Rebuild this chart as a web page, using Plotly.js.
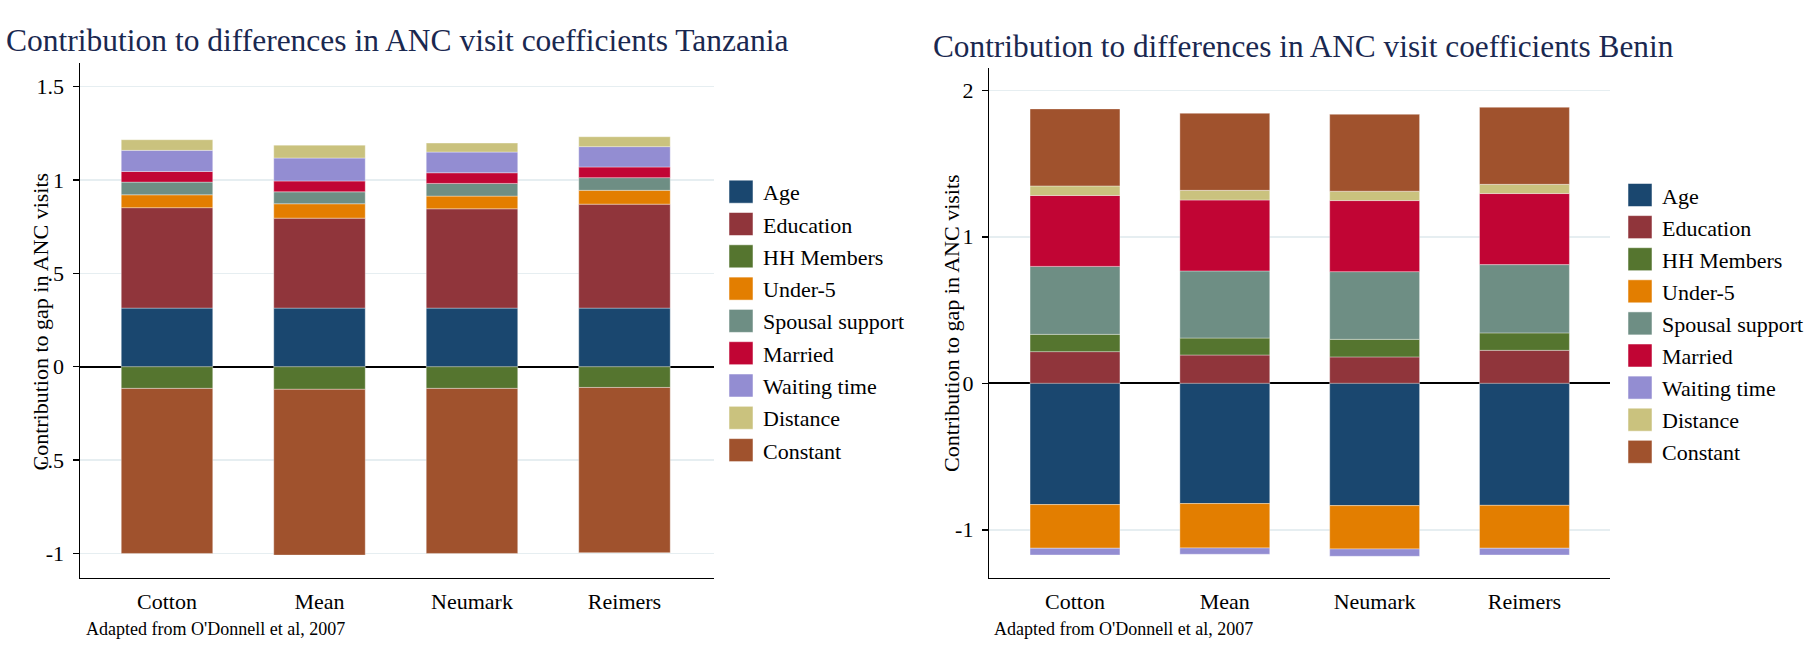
<!DOCTYPE html>
<html>
<head>
<meta charset="utf-8">
<script src="https://cdn.plot.ly/plotly-3.0.1.min.js"></script>
<style>
html,body{margin:0;padding:0;background:#fff;}
#chart{width:1817px;height:664px;}
</style>
</head>
<body>
<div id="chart"></div>
<script>
// ---- data ----
var categories = ['Cotton', 'Mean', 'Neumark', 'Reimers'];
var seriesNames = ['Age', 'Education', 'HH Members', 'Under-5', 'Spousal support', 'Married', 'Waiting time', 'Distance', 'Constant'];

// Tanzania
var ageTZ    = [0.314, 0.314, 0.314, 0.314];
var eduTZ    = [0.538, 0.482, 0.532, 0.557];
var hhTZ     = [-0.116, -0.121, -0.116, -0.111];
var under5TZ = [0.069, 0.077, 0.068, 0.074];
var spouseTZ = [0.068, 0.064, 0.068, 0.068];
var marriedTZ= [0.057, 0.058, 0.057, 0.057];
var waitTZ   = [0.113, 0.123, 0.111, 0.109];
var distTZ   = [0.057, 0.069, 0.048, 0.053];
var constTZ  = [-0.884, -0.888, -0.884, -0.885];

// Benin
var ageBJ    = [-0.828, -0.821, -0.835, -0.833];
var eduBJ    = [0.216, 0.193, 0.180, 0.225];
var hhBJ     = [0.118, 0.116, 0.120, 0.119];
var under5BJ = [-0.298, -0.303, -0.296, -0.293];
var spouseBJ = [0.464, 0.458, 0.462, 0.466];
var marriedBJ= [0.484, 0.484, 0.485, 0.485];
var waitBJ   = [-0.046, -0.043, -0.050, -0.046];
var distBJ   = [0.065, 0.066, 0.064, 0.063];
var constBJ  = [0.526, 0.526, 0.525, 0.526];

var ticksTZ = [-1, -0.5, 0, 0.5, 1, 1.5];
var tickTextTZ = ['-1', '-.5', '0', '.5', '1', '1.5'];
var ticksBJ = [-1, 0, 1, 2];
var tickTextBJ = ['-1', '0', '1', '2'];

var titleTZ = 'Contribution to differences in ANC visit coefficients Tanzania';
var titleBJ = 'Contribution to differences in ANC visit coefficients Benin';
var yTitle = 'Contribution to gap in ANC visits';
var note = "Adapted from O'Donnell et al, 2007";

// ---- styles ----
var colors = ['#1a476f', '#90353b', '#55752f', '#e37e00', '#6e8e84', '#c10534', '#938dd2', '#cac27e', '#a0522d'];
var FONT = '"Liberation Serif", "Times New Roman", serif';
var W = 1817, H = 664;
function px(x) { return x / W; }
function py(y) { return 1 - y / H; }

var tzSeries = [ageTZ, eduTZ, hhTZ, under5TZ, spouseTZ, marriedTZ, waitTZ, distTZ, constTZ];
var bjSeries = [ageBJ, eduBJ, hhBJ, under5BJ, spouseBJ, marriedBJ, waitBJ, distBJ, constBJ];

var traces = [];
tzSeries.forEach(function (vals, i) {
  traces.push({
    type: 'bar', x: categories, y: vals, name: seriesNames[i],
    xaxis: 'x', yaxis: 'y', showlegend: false,
    marker: { color: colors[i], line: { color: 'rgba(255,255,255,0.35)', width: 1 } },
    hoverinfo: 'skip'
  });
});
bjSeries.forEach(function (vals, i) {
  traces.push({
    type: 'bar', x: categories, y: vals, name: seriesNames[i],
    xaxis: 'x2', yaxis: 'y2', showlegend: false,
    marker: { color: colors[i], line: { color: 'rgba(255,255,255,0.35)', width: 1 } },
    hoverinfo: 'skip'
  });
});

function xAxis(domain, range, anchor) {
  return {
    domain: domain, anchor: anchor, type: 'category', range: range,
    showline: true, linecolor: '#000', linewidth: 1.5, mirror: false,
    showgrid: false, zeroline: false,
    ticks: 'outside', ticklen: 3, tickcolor: 'rgba(0,0,0,0)',
    tickfont: { family: FONT, size: 22, color: '#000' }, fixedrange: true
  };
}
function yAxis(domain, range, anchor, tv, tt) {
  return {
    domain: domain, anchor: anchor, range: range,
    tickvals: tv, ticktext: tt,
    showline: true, linecolor: '#000', linewidth: 1.5,
    showgrid: true, gridcolor: '#e6eef1', gridwidth: 1.5,
    zeroline: true, zerolinecolor: '#000', zerolinewidth: 2,
    ticks: 'outside', ticklen: 6, tickwidth: 1.5, tickcolor: '#000',
    ticklabelstandoff: 4,
    tickfont: { family: FONT, size: 22, color: '#000' }, fixedrange: true
  };
}

var annotations = [
  { text: titleTZ, xref: 'paper', yref: 'paper', x: px(4), y: py(41), xanchor: 'left', yanchor: 'middle', showarrow: false,
    font: { family: FONT, size: 31.5, color: '#1a2850' } },
  { text: titleBJ, xref: 'paper', yref: 'paper', x: px(931), y: py(47), xanchor: 'left', yanchor: 'middle', showarrow: false,
    font: { family: FONT, size: 31.3, color: '#1a2850' } },
  { text: yTitle, xref: 'paper', yref: 'paper', x: px(40), y: py(321.5), xanchor: 'center', yanchor: 'middle', textangle: -90, showarrow: false,
    font: { family: FONT, size: 22, color: '#000' } },
  { text: yTitle, xref: 'paper', yref: 'paper', x: px(951), y: py(323), xanchor: 'center', yanchor: 'middle', textangle: -90, showarrow: false,
    font: { family: FONT, size: 22, color: '#000' } },
  { text: note, xref: 'paper', yref: 'paper', x: px(84), y: py(629), xanchor: 'left', yanchor: 'middle', showarrow: false,
    font: { family: FONT, size: 18, color: '#000' } },
  { text: note, xref: 'paper', yref: 'paper', x: px(992), y: py(629), xanchor: 'left', yanchor: 'middle', showarrow: false,
    font: { family: FONT, size: 18, color: '#000' } }
];

var shapes = [];
function addLegend(swX, txtX, y0, step) {
  seriesNames.forEach(function (nm, i) {
    var cy = y0 + i * step;
    shapes.push({ type: 'rect', xref: 'paper', yref: 'paper',
      x0: px(swX), x1: px(swX + 24), y0: py(cy + 11.5), y1: py(cy - 11.5),
      fillcolor: colors[i], line: { color: 'rgba(255,255,255,0.5)', width: 1 } });
    annotations.push({ text: nm, xref: 'paper', yref: 'paper', x: px(txtX), y: py(cy + 1), xanchor: 'left', yanchor: 'middle',
      showarrow: false, font: { family: FONT, size: 22, color: '#000' } });
  });
}
addLegend(729, 761, 191.7, 32.3);
addLegend(1628, 1660, 195, 32.1);

var layout = {
  width: W, height: H,
  margin: { l: 0, r: 0, t: 0, b: 0, pad: 0 },
  paper_bgcolor: '#fff', plot_bgcolor: '#fff',
  barmode: 'relative', bargap: 0.4,
  showlegend: false,
  font: { family: FONT },
  xaxis: xAxis([px(80), px(714)], [-0.5705, 3.587], 'y'),
  yaxis: yAxis([py(577.7), py(63)], [-1.13, 1.627], 'x', ticksTZ, tickTextTZ),
  xaxis2: xAxis([px(989.3), px(1610)], [-0.572, 3.571], 'y2'),
  yaxis2: yAxis([py(577.7), py(68.3)], [-1.327, 2.15], 'x2', ticksBJ, tickTextBJ),
  annotations: annotations,
  shapes: shapes
};

Plotly.newPlot('chart', traces, layout, { displayModeBar: false, staticPlot: true });
</script>
</body>
</html>
